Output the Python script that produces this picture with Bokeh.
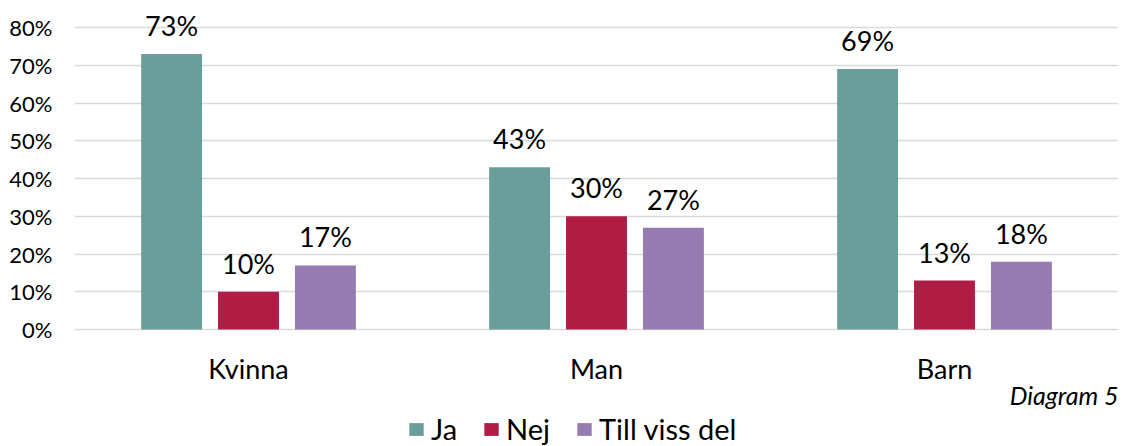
from bokeh.plotting import figure
from bokeh.models import (FactorRange, ColumnDataSource, LabelSet, Label, Legend, LegendItem,
                          NumeralTickFormatter, FixedTicker)
from bokeh.core.properties import value
from bokeh.transform import dodge
from bokeh.embed import file_html
from bokeh.resources import INLINE

categories = ["Kvinna", "Man", "Barn"]
ja = [0.73, 0.43, 0.69]
nej = [0.10, 0.30, 0.13]
till = [0.17, 0.27, 0.18]
series_names = ["Ja", "Nej", "Till viss del"]
colors = ["#6A9E9A", "#B01C44", "#967BB0"]
yticks = [0, 0.1, 0.2, 0.3, 0.4, 0.5, 0.6, 0.7, 0.8]

FONT = "Lato"

# frame spans down to the bottom of the canvas so legend/notes are not clipped
p = figure(x_range=FactorRange(*categories, range_padding=0), y_range=(-0.3097, 0.84),
           width=1135, height=446, output_backend="svg", toolbar_location=None,
           min_border_left=74, min_border_right=17, min_border_top=12, min_border_bottom=0)
p.outline_line_color = None
p.background_fill_color = None

src = ColumnDataSource(dict(cat=categories, ja=ja, nej=nej, till=till, base=[0] * len(categories),
                            ja_l=[f"{round(v*100)}%" for v in ja],
                            nej_l=[f"{round(v*100)}%" for v in nej],
                            till_l=[f"{round(v*100)}%" for v in till]))

offsets = [-0.221, 0.0, 0.221]
fields = ["ja", "nej", "till"]
renderers = []
for f, off, c in zip(fields, offsets, colors):
    r = p.vbar(x=dodge("cat", off, range=p.x_range), top=f, width=0.175, source=src,
               fill_color=c, line_color=None)
    renderers.append(r)
    ls = LabelSet(x=dodge("cat", off, range=p.x_range), y=f, text=f + "_l", source=src,
                  text_align="center", text_baseline="alphabetic", y_offset=18,
                  text_font=value(FONT), text_font_size=value("27px"), text_color="#000000")
    p.add_layout(ls)

# category labels under the baseline
p.add_layout(LabelSet(x="cat", y="base", text="cat", source=src, text_align="center",
                      text_baseline="alphabetic", y_offset=-49,
                      text_font=value(FONT), text_font_size=value("27px"), text_color="#000000"))
p.xaxis.visible = False

p.yaxis.ticker = FixedTicker(ticks=yticks)
p.yaxis.formatter = NumeralTickFormatter(format="0%")
p.yaxis.axis_line_color = None
p.yaxis.major_tick_line_color = None
p.yaxis.minor_tick_line_color = None
p.yaxis.major_label_standoff = 16
p.yaxis.major_label_text_font = FONT
p.yaxis.major_label_text_font_size = "22px"
p.yaxis.major_label_text_color = "#000000"

p.xgrid.grid_line_color = None
p.ygrid.ticker = FixedTicker(ticks=yticks)
p.ygrid.grid_line_color = "#D9D9D9"
p.ygrid.grid_line_width = 1.5

legend = Legend(items=[LegendItem(label=n, renderers=[r]) for n, r in zip(series_names, renderers)],
                orientation="horizontal", location=(333, 0),
                label_text_font=FONT, label_text_font_size="29px", label_text_color="#000000",
                glyph_width=18, glyph_height=16, label_standoff=6, spacing=25,
                border_line_color=None, background_fill_alpha=0, padding=0, margin=0)
p.add_layout(legend, "center")

p.add_layout(Label(x=3.0, y=-0.172, text="Diagram 5",
                   text_align="right", text_baseline="alphabetic", text_font=FONT,
                   text_font_style="italic", text_font_size="25px", text_color="#000000"))

open("out.html", "w").write(file_html(p, INLINE))
